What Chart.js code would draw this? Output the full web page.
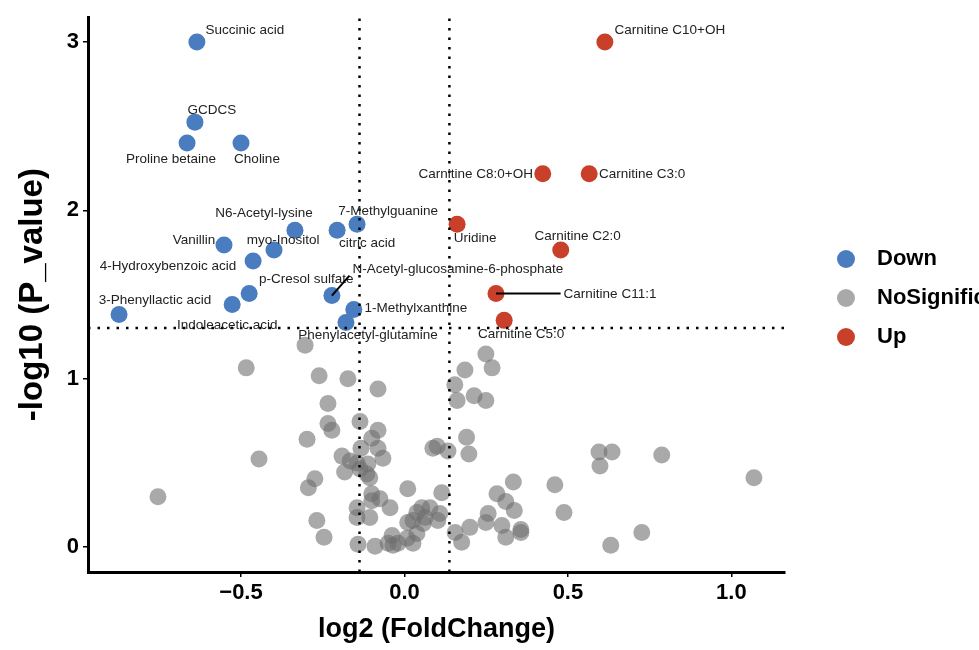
<!DOCTYPE html>
<html>
<head>
<meta charset="utf-8">
<script src="https://cdn.jsdelivr.net/npm/chart.js@4.4.1/dist/chart.umd.min.js"></script>
<style>
  html, body { margin: 0; padding: 0; background: #fff; }
</style>
</head>
<body>
<canvas id="volcano" width="979" height="650"></canvas>
<script>
// --- DATA ---
const downNames = ["Succinic acid", "GCDCS", "Proline betaine", "Choline", "N6-Acetyl-lysine",
  "citric acid", "7-Methylguanine", "Vanillin", "myo-Inositol", "4-Hydroxybenzoic acid",
  "p-Cresol sulfate", "Indoleacetic acid", "3-Phenyllactic acid", "N-Acetyl-glucosamine-6-phosphate",
  "1-Methylxanthine", "Phenylacetyl-glutamine"];
const downFC = [-0.635, -0.641, -0.665, -0.500, -0.335, -0.206, -0.145, -0.552, -0.399, -0.463,
  -0.475, -0.527, -0.873, -0.222, -0.155, -0.179];
const downP = [3.000, 2.524, 2.400, 2.400, 1.882, 1.882, 1.918, 1.794, 1.765, 1.700,
  1.506, 1.441, 1.382, 1.494, 1.412, 1.335];

const upNames = ["Carnitine C10+OH", "Carnitine C8:0+OH", "Carnitine C3:0", "Uridine",
  "Carnitine C2:0", "Carnitine C11:1", "Carnitine C5:0"];
const upFC = [0.613, 0.423, 0.565, 0.161, 0.478, 0.280, 0.305];
const upP = [3.000, 2.218, 2.218, 1.918, 1.765, 1.506, 1.347];

const nsFC = [-0.304, -0.484, -0.261, -0.173, -0.081, -0.234, -0.234, -0.222, -0.136, -0.081,
  -0.100, -0.298, -0.081, -0.133, -0.066, -0.445, -0.191, -0.166, -0.145, -0.112,
  -0.183, -0.136, -0.115, -0.106, -0.274, -0.294, -0.754, -0.100, -0.075, -0.100,
  0.010, 0.114, -0.044, -0.145, -0.145, -0.106, -0.268, 0.053, 0.078, 0.038,
  0.108, 0.063, 0.010, 0.102, 0.026, 0.057, 0.038, 0.026, 0.008, -0.038,
  -0.035, -0.020, -0.050, -0.090, -0.142, -0.246, 0.155, 0.100, 0.087, 0.133,
  0.154, 0.161, 0.249, 0.185, 0.268, 0.213, 0.249, 0.190, 0.197, 0.333,
  0.283, 0.310, 0.336, 0.256, 0.249, 0.200, 0.175, 0.298, 0.310, 0.356,
  0.356, 0.460, 0.488, 0.595, 0.635, 0.598, 0.787, 1.069, 0.726, 0.631];
const nsP = [1.200, 1.065, 1.018, 1.000, 0.940, 0.853, 0.735, 0.694, 0.747, 0.694,
  0.647, 0.641, 0.588, 0.588, 0.529, 0.524, 0.541, 0.512, 0.500, 0.494,
  0.447, 0.465, 0.435, 0.412, 0.406, 0.353, 0.300, 0.318, 0.288, 0.276,
  0.347, 0.324, 0.235, 0.235, 0.176, 0.176, 0.159, 0.235, 0.235, 0.206,
  0.200, 0.176, 0.147, 0.159, 0.159, 0.141, 0.082, 0.024, 0.053, 0.070,
  0.012, 0.024, 0.024, 0.006, 0.018, 0.059, 0.088, 0.600, 0.588, 0.571,
  0.965, 0.871, 1.147, 1.053, 1.065, 0.900, 0.871, 0.653, 0.553, 0.388,
  0.318, 0.271, 0.218, 0.200, 0.147, 0.118, 0.030, 0.129, 0.059, 0.106,
  0.088, 0.371, 0.206, 0.565, 0.565, 0.482, 0.547, 0.412, 0.088, 0.012];

const groupNames = ["Down", "NoSignificant", "Up"];
const xTicks = [-0.5, 0, 0.5, 1.0];
const xTickLabels = ["\u22120.5", "0.0", "0.5", "1.0"];
const yTicks = [0, 1, 2, 3];
const yTickLabels = ["0", "1", "2", "3"];
const fcCut = [-0.1375, 0.1375];   // +/- log2(1.1)
const pCut = 1.301;                 // -log10(0.05)
const xMin = -0.968, xMax = 1.164, yMin = -0.147, yMax = 3.147;

// --- STYLE ---
const FONT = '"Liberation Sans", Arial, Helvetica, sans-serif';
const colDown = "#4a7cc0";
const colNS = "rgba(112, 112, 112, 0.6)";
const colUp = "#c9402a";

// label offsets from the point, in pixels (text centre)
const labelOffsets = {
  "Succinic acid": [48, -12], "GCDCS": [17, -12], "Proline betaine": [-16, 16],
  "Choline": [16, 16], "N6-Acetyl-lysine": [-31, -17], "citric acid": [30, 13],
  "7-Methylguanine": [31, -13], "Vanillin": [-30, -5], "myo-Inositol": [9, -10],
  "4-Hydroxybenzoic acid": [-85, 5], "p-Cresol sulfate": [57, -14],
  "Indoleacetic acid": [-5, 21], "3-Phenyllactic acid": [36, -14],
  "N-Acetyl-glucosamine-6-phosphate": [126, -26], "1-Methylxanthine": [62, -1],
  "Phenylacetyl-glutamine": [22, 13],
  "Carnitine C10+OH": [65, -12], "Carnitine C8:0+OH": [-67, 1], "Carnitine C3:0": [53, 1],
  "Uridine": [18, 14], "Carnitine C2:0": [17, -14], "Carnitine C11:1": [114, 1],
  "Carnitine C5:0": [17, 14]
};
const segmentLabels = ["N-Acetyl-glucosamine-6-phosphate", "Carnitine C11:1"];

const toPoints = (xs, ys) => xs.map((v, i) => ({ x: v, y: ys[i] }));

const pointLabels = {
  id: "pointLabels",
  afterDatasetsDraw(chart) {
    const { ctx, scales: { x, y } } = chart;
    ctx.save();
    ctx.font = "13.5px " + FONT;
    ctx.textAlign = "center";
    ctx.textBaseline = "middle";
    [[downNames, downFC, downP], [upNames, upFC, upP]].forEach(([names, fc, p]) => {
      names.forEach((name, i) => {
        const px = x.getPixelForValue(fc[i]);
        const py = y.getPixelForValue(p[i]);
        const [dx, dy] = labelOffsets[name];
        const tx = px + dx, ty = py + dy;
        if (segmentLabels.includes(name)) {
          const hw = ctx.measureText(name).width / 2;
          const bx = Math.max(tx - hw, Math.min(px, tx + hw));
          const by = Math.max(ty - 6, Math.min(py, ty + 6));
          ctx.beginPath();
          ctx.moveTo(px, py);
          ctx.lineTo(bx - 3, by);
          ctx.lineWidth = 2;
          ctx.strokeStyle = "#000";
          ctx.stroke();
        }
        ctx.fillStyle = "#222";
        ctx.fillText(name, tx, ty);
      });
    });
    ctx.restore();
  }
};

const sideLegend = {
  id: "sideLegend",
  afterDraw(chart) {
    const { ctx } = chart;
    const colors = [colDown, colNS, colUp];
    ctx.save();
    ctx.font = "bold 22px " + FONT;
    ctx.textBaseline = "middle";
    ctx.textAlign = "left";
    groupNames.forEach((name, i) => {
      const cy = 259 + i * 39;
      ctx.beginPath();
      ctx.arc(846, cy, 9, 0, Math.PI * 2);
      ctx.fillStyle = colors[i];
      ctx.fill();
      ctx.fillStyle = "#000";
      ctx.fillText(name, 877, cy);
    });
    ctx.restore();
  }
};

const cutLine = (pts) => ({
  type: "line", data: pts, order: 0,
  borderColor: "#000", borderWidth: 2.5, borderDash: [2.5, 7],
  pointRadius: 0, fill: false, showLine: true
});

Chart.defaults.font.family = FONT;

new Chart(document.getElementById("volcano"), {
  type: "scatter",
  data: {
    datasets: [
      cutLine([{ x: fcCut[0], y: yMin }, { x: fcCut[0], y: yMax }]),
      cutLine([{ x: fcCut[1], y: yMin }, { x: fcCut[1], y: yMax }]),
      cutLine([{ x: xMin, y: pCut }, { x: xMax, y: pCut }]),
      { label: "Up", data: toPoints(upFC, upP), backgroundColor: colUp, pointRadius: 8.5, borderWidth: 0, order: 1 },
      { label: "NoSignificant", data: toPoints(nsFC, nsP), backgroundColor: colNS, pointRadius: 8.5, borderWidth: 0, order: 2 },
      { label: "Down", data: toPoints(downFC, downP), backgroundColor: colDown, pointRadius: 8.5, borderWidth: 0, order: 3 }
    ]
  },
  options: {
    responsive: false,
    animation: false,
    events: [],
    layout: { padding: { left: 0, top: 12, right: 194, bottom: 0 } },
    plugins: { legend: { display: false }, tooltip: { enabled: false } },
    scales: {
      x: {
        type: "linear", min: xMin, max: xMax,
        afterBuildTicks: s => { s.ticks = xTicks.map(v => ({ value: v })); },
        afterFit: s => { s.height = 78; },
        ticks: { callback: (v, i) => xTickLabels[i], color: "#000", padding: 3,
                 font: { size: 22, weight: "bold" } },
        grid: { drawOnChartArea: false, drawTicks: true, tickLength: 5, color: "#000", lineWidth: 1.5 },
        border: { display: true, color: "#000", width: 3 },
        title: { display: true, text: "log2 (FoldChange)", color: "#000",
                 font: { size: 27, weight: "bold" }, padding: { top: 0, bottom: 4 } }
      },
      y: {
        type: "linear", min: yMin, max: yMax,
        afterBuildTicks: s => { s.ticks = yTicks.map(v => ({ value: v })); },
        afterFit: s => { s.width = 88; },
        ticks: { callback: (v, i) => yTickLabels[i], color: "#000", padding: 4,
                 font: { size: 22, weight: "bold" } },
        grid: { drawOnChartArea: false, drawTicks: true, tickLength: 5, color: "#000", lineWidth: 1.5 },
        border: { display: true, color: "#000", width: 3 },
        title: { display: true, text: "-log10 (P_value)", color: "#000",
                 font: { size: 33, weight: "bold" }, padding: { top: 13, bottom: 0 } }
      }
    }
  },
  plugins: [pointLabels, sideLegend]
});
</script>
</body>
</html>
